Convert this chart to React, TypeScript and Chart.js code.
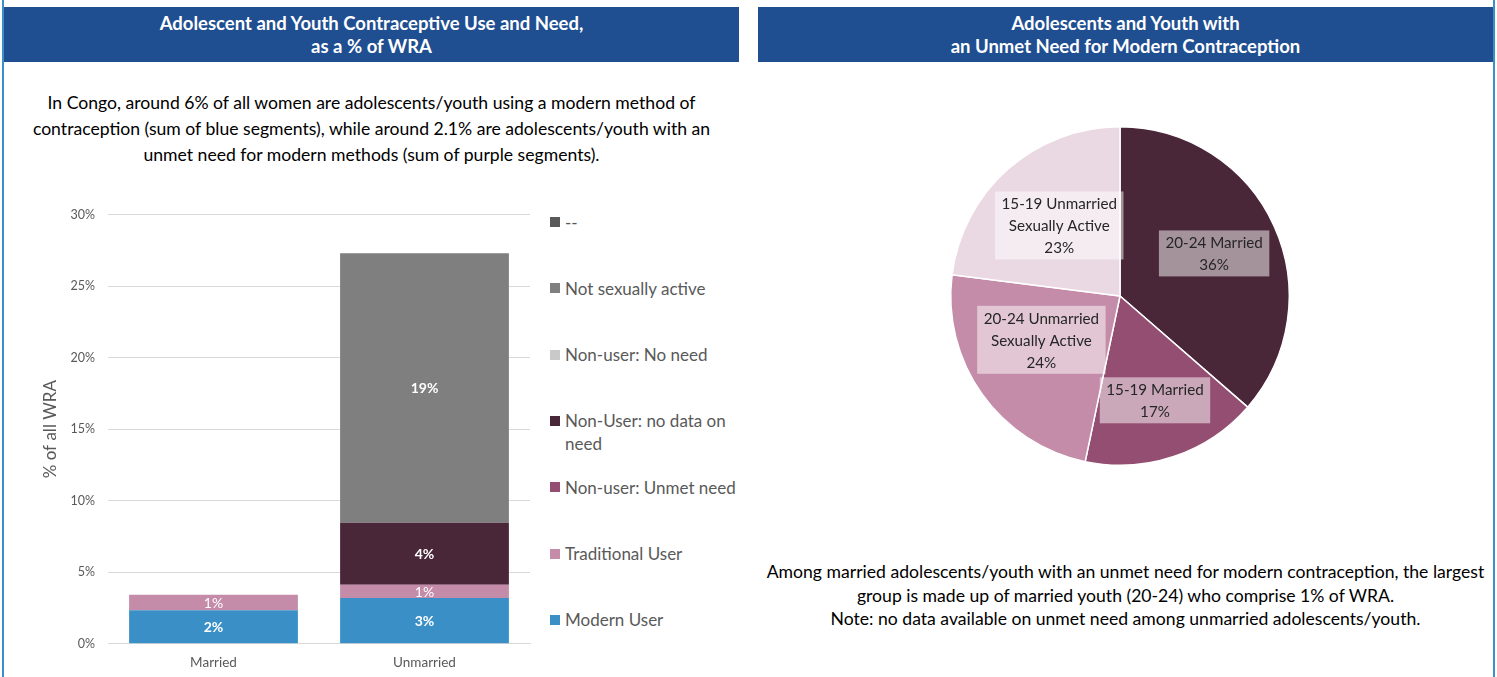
import React, { useEffect, useRef } from "react";
import { Chart, registerables } from "chart.js";

Chart.register(...registerables);

// ---------- Data ----------
const barCategories = ["Married", "Unmarried"];
const seriesNames = [
  "Modern User",
  "Traditional User",
  "Non-user: Unmet need",
  "Non-User: no data on need",
  "Non-user: No need",
  "Not sexually active",
  "--",
];
const modernUser = [2.35, 3.2];
const traditionalUser = [1.07, 0.93];
const unmetNeed = [0, 0];
const noDataOnNeed = [0, 4.33];
const noNeed = [0, 0];
const notSexuallyActive = [0, 18.84];
const dashSeries = [0, 0];
const yTickValues = [0, 5, 10, 15, 20, 25, 30];

const pieLabelLines = [
  ["20-24 Married"],
  ["15-19 Married"],
  ["20-24 Unmarried", "Sexually Active"],
  ["15-19 Unmarried", "Sexually Active"],
];
const pieValues = [36.4, 16.9, 23.7, 23.0];

// ---------- Styles ----------
const FONT = "Lato, 'Open Sans', sans-serif";
const seriesColors = ["#3a90c6", "#c48ca8", "#944e72", "#4a2639", "#c9c9c9", "#7f7f7f", "#595959"];
const seriesBoldLabel = [true, false, true, true, true, true, true];
const pieColors = ["#4a2639", "#944e72", "#c48ca8", "#ead8e2"];

const barSeriesData = [modernUser, traditionalUser, unmetNeed, noDataOnNeed, noNeed, notSexuallyActive, dashSeries];

const barLabelPlugin = {
  id: "barLabels",
  afterDatasetsDraw(chart: any) {
    const ctx = chart.ctx;
    chart.data.datasets.forEach((ds: any, di: number) => {
      const meta = chart.getDatasetMeta(di);
      meta.data.forEach((el: any, i: number) => {
        const v = ds.data[i];
        if (!v || v < 0.5) return;
        const p = el.getProps(["x", "y", "base"], true);
        const cy = (p.y + p.base) / 2;
        ctx.save();
        ctx.fillStyle = "#ffffff";
        ctx.font = `${seriesBoldLabel[di] ? "bold " : ""}14px ${FONT}`;
        ctx.textAlign = "center";
        ctx.textBaseline = "middle";
        ctx.fillText(Math.round(v) + "%", p.x, cy + 1);
        ctx.restore();
      });
    });
  },
};

const pieLabelPlugin = {
  id: "pieLabels",
  afterDatasetsDraw(chart: any) {
    const ctx = chart.ctx;
    const meta = chart.getDatasetMeta(0);
    const placed: { l: number; r: number; t: number; b: number }[] = [];
    meta.data.forEach((arc: any, i: number) => {
      const p = arc.getProps(["x", "y", "startAngle", "endAngle", "outerRadius"], true);
      const mid = (p.startAngle + p.endAngle) / 2;
      const R = p.outerRadius;
      const r = R * 0.65;
      const dx0 = Math.cos(mid) * r;
      const dy0 = Math.sin(mid) * r;
      const lines = [...pieLabelLines[i], Math.round(pieValues[i]) + "%"];
      ctx.save();
      ctx.font = `15.2px ${FONT}`;
      const lh = 22;
      const w = Math.max(...lines.map((l) => ctx.measureText(l).width)) + 13;
      const h = lines.length * lh + 2;
      const lim = R * 0.965;
      const fits = (cx: number, cy: number) => {
        const inside = [[-1, -1], [1, -1], [-1, 1], [1, 1]].every(([sx, sy]) =>
          Math.hypot(cx + (sx * w) / 2, cy + (sy * h) / 2) <= lim
        );
        if (!inside) return false;
        const l = cx - w / 2, rr = cx + w / 2, t = cy - h / 2, b = cy + h / 2;
        return placed.every((q) => rr + 3 <= q.l || l >= q.r + 3 || b + 3 <= q.t || t >= q.b + 3);
      };
      let best = { x: dx0, y: dy0, d: Infinity };
      if (fits(dx0, dy0)) best = { x: dx0, y: dy0, d: 0 };
      else {
        for (let ox = -90; ox <= 90; ox++) {
          for (let oy = -90; oy <= 90; oy++) {
            const d = ox * ox + oy * oy;
            if (d >= best.d) continue;
            if (fits(dx0 + ox, dy0 + oy)) best = { x: dx0 + ox, y: dy0 + oy, d };
          }
        }
      }
      placed.push({ l: best.x - w / 2, r: best.x + w / 2, t: best.y - h / 2, b: best.y + h / 2 });
      const cx = p.x + best.x;
      const cy = p.y + best.y;
      ctx.fillStyle = "rgba(255,255,255,0.5)";
      ctx.fillRect(cx - w / 2, cy - h / 2, w, h);
      ctx.fillStyle = "#262626";
      ctx.textAlign = "center";
      ctx.textBaseline = "middle";
      lines.forEach((l, li) => {
        ctx.fillText(l, cx, cy - h / 2 + 1 + lh * (li + 0.5) + 1);
      });
      ctx.restore();
    });
  },
};

function BarChart() {
  const ref = useRef<HTMLCanvasElement>(null);
  useEffect(() => {
    const chart = new Chart(ref.current as HTMLCanvasElement, {
      type: "bar",
      data: {
        labels: barCategories,
        datasets: seriesNames.map((name, i) => ({
          label: name,
          data: barSeriesData[i],
          backgroundColor: seriesColors[i],
          borderWidth: 0,
          barPercentage: 0.8,
          categoryPercentage: 1,
        })),
      },
      options: {
        animation: false,
        responsive: false,
        maintainAspectRatio: false,
        layout: { padding: { left: 40, right: 10, top: 0, bottom: 0 } },
        plugins: { legend: { display: false }, tooltip: { enabled: false } },
        scales: {
          x: {
            stacked: true,
            grid: { display: false },
            border: { display: true, color: "#d9d9d9", width: 1 },
            ticks: { color: "#595959", font: { family: FONT, size: 13.5 }, padding: 3 },
          },
          y: {
            stacked: true,
            min: 0,
            max: 30,
            afterBuildTicks(scale: any) {
              scale.ticks = yTickValues.map((v) => ({ value: v }));
            },
            afterFit(scale: any) {
              scale.width = 68;
            },
            grid: { color: "#d9d9d9", lineWidth: 1, drawTicks: false },
            border: { display: false },
            ticks: {
              color: "#595959",
              font: { family: FONT, size: 12.5 },
              padding: 13,
              callback: (v: any) => v + "%",
            },
            title: {
              display: true,
              text: "% of all WRA",
              color: "#595959",
              font: { family: FONT, size: 17 },
              padding: 0,
            },
          },
        },
      },
      plugins: [barLabelPlugin],
    });
    return () => chart.destroy();
  }, []);
  return <canvas ref={ref} width={540} height={480} style={{ position: "absolute", left: 0, top: 194, width: 540, height: 480 }} />;
}

function PieChart() {
  const ref = useRef<HTMLCanvasElement>(null);
  useEffect(() => {
    const chart = new Chart(ref.current as HTMLCanvasElement, {
      type: "pie",
      data: {
        labels: pieLabelLines.map((l) => l.join(" ")),
        datasets: [
          {
            data: pieValues,
            backgroundColor: pieColors,
            borderColor: "#ffffff",
            borderWidth: 1.5,
          },
        ],
      },
      options: {
        animation: false,
        responsive: false,
        maintainAspectRatio: false,
        layout: { padding: 0 },
        plugins: { legend: { display: false }, tooltip: { enabled: false } },
      },
      plugins: [pieLabelPlugin],
    });
    return () => chart.destroy();
  }, []);
  return <canvas ref={ref} width={736} height={340} style={{ position: "absolute", left: 752, top: 126, width: 736, height: 340 }} />;
}

const legendTop = 222;
const legendStep = 66.3;

export default function App() {
  useEffect(() => {
    document.body.style.margin = "0";
  }, []);
  const headerStyle: React.CSSProperties = {
    position: "absolute",
    top: 7,
    height: 55,
    background: "#1f4e91",
    color: "#ffffff",
    fontFamily: FONT,
    fontWeight: "bold",
    fontSize: 18.5,
    lineHeight: "23px",
    textAlign: "center",
    display: "flex",
    flexDirection: "column",
    justifyContent: "center",
  };
  const legendItems = [...seriesNames].reverse();
  const legendColors = [...seriesColors].reverse();
  return (
    <div style={{ position: "relative", width: 1497, height: 677, background: "#fff", overflow: "hidden" }}>
      <div style={{ position: "absolute", left: 2, top: 0, width: 2, height: 677, background: "#3b8fcb" }} />
      <div style={{ position: "absolute", left: 1493, top: 0, width: 2, height: 677, background: "#3b8fcb" }} />
      <div style={{ ...headerStyle, left: 4, width: 735 }}>
        <div>Adolescent and Youth Contraceptive Use and Need,</div>
        <div>as a % of WRA</div>
      </div>
      <div style={{ ...headerStyle, left: 758, width: 735 }}>
        <div>Adolescents and Youth with</div>
        <div>an Unmet Need for Modern Contraception</div>
      </div>
      <div
        style={{
          position: "absolute",
          left: 4,
          width: 735,
          top: 90,
          fontFamily: FONT,
          fontSize: 17.6,
          lineHeight: "26px",
          color: "#000",
          textAlign: "center",
        }}
      >
        <div>In Congo, around 6% of all women are adolescents/youth using a modern method of</div>
        <div>contraception (sum of blue segments), while around 2.1% are adolescents/youth with an</div>
        <div>unmet need for modern methods (sum of purple segments).</div>
      </div>
      <BarChart />
      {legendItems.map((name, i) => (
        <div
          key={name}
          style={{
            position: "absolute",
            left: 550,
            top: legendTop + i * legendStep - 11.5,
            width: 196,
            display: "flex",
            alignItems: "flex-start",
            fontFamily: FONT,
            fontSize: 17,
            lineHeight: "23px",
            color: "#595959",
          }}
        >
          <div style={{ width: 10, height: 10, background: legendColors[i], marginTop: 6.5, marginRight: 5, flex: "none" }} />
          <div>{name}</div>
        </div>
      ))}
      <PieChart />
      <div
        style={{
          position: "absolute",
          left: 758,
          width: 735,
          top: 560,
          fontFamily: FONT,
          fontSize: 17.6,
          lineHeight: "23.5px",
          color: "#000",
          textAlign: "center",
        }}
      >
        <div>Among married adolescents/youth with an unmet need for modern contraception, the largest</div>
        <div>group is made up of married youth (20-24) who comprise 1% of WRA.</div>
        <div>Note: no data available on unmet need among unmarried adolescents/youth.</div>
      </div>
    </div>
  );
}
